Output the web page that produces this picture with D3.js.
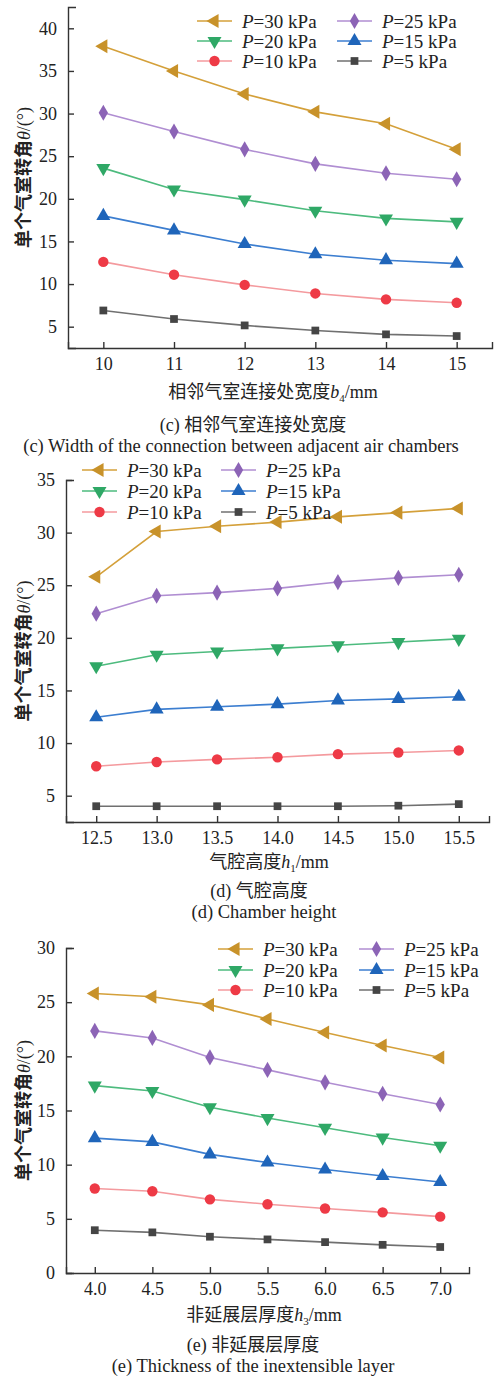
<!DOCTYPE html>
<html><head><meta charset="utf-8">
<script src="https://cdn.jsdelivr.net/npm/d3@7"></script>
<style>
body{margin:0;background:#fff;}
svg text{font-family:"Liberation Serif","Noto Sans CJK SC",serif;fill:#222;}
</style></head>
<body><svg id="chart" width="500" height="1376"></svg>
<script>
// ---------- data ----------
const seriesLabels = ["30 kPa","25 kPa","20 kPa","15 kPa","10 kPa","5 kPa"];
const lineColors   = ["#D4A03A","#B08ED2","#4DBB7E","#3C7ED0","#F49A9E","#707070"];
const markColors   = ["#C8922A","#8C64B6","#2FA866","#1F65BA","#EE3A46","#454545"];
const markShapes   = ["triLeft","diamond","triDown","triUp","circle","square"];

// (c) width of the connection b4
const xC = [10,11,12,13,14,15];
const valuesC = [
  [37.9,35.0,32.3,30.2,28.8,25.8],
  [30.1,27.9,25.8,24.1,23.0,22.3],
  [23.6,21.1,19.9,18.6,17.7,17.3],
  [18.0,16.3,14.7,13.5,12.8,12.4],
  [12.6,11.1,9.9,8.9,8.2,7.8],
  [6.9,5.9,5.15,4.55,4.1,3.9]
];
const yTicksC = [5,10,15,20,25,30,35,40];

// (d) chamber height h1
const xD = [12.5,13.0,13.5,14.0,14.5,15.0,15.5];
const valuesD = [
  [25.8,30.1,30.6,31.0,31.5,31.9,32.3],
  [22.3,24.0,24.3,24.7,25.3,25.7,26.0],
  [17.3,18.4,18.7,19.0,19.3,19.6,19.9],
  [12.45,13.2,13.45,13.7,14.05,14.2,14.4],
  [7.8,8.2,8.45,8.65,8.95,9.1,9.3],
  [4.0,4.0,4.0,4.0,4.0,4.05,4.2]
];
const yTicksD = [5,10,15,20,25,30,35];

// (e) thickness of inextensible layer h3
const xE = [4.0,4.5,5.0,5.5,6.0,6.5,7.0];
const valuesE = [
  [25.8,25.5,24.75,23.45,22.2,21.0,19.9],
  [22.35,21.7,19.9,18.75,17.6,16.55,15.55],
  [17.3,16.8,15.3,14.3,13.4,12.5,11.75],
  [12.45,12.1,10.95,10.2,9.55,8.95,8.4],
  [7.8,7.55,6.8,6.35,5.95,5.6,5.2],
  [3.95,3.75,3.35,3.1,2.85,2.6,2.4]
];
const yTicksE = [0,5,10,15,20,25,30];

// ---------- drawing ----------
const svg = d3.select("#chart");

function markerPath(shape){
  const s = {
    triLeft: d3.symbol().type(d3.symbolTriangle).size(85),
    diamond: d3.symbol().type(d3.symbolDiamond).size(75),
    triDown: d3.symbol().type(d3.symbolTriangle).size(85),
    triUp:   d3.symbol().type(d3.symbolTriangle).size(85),
    circle:  d3.symbol().type(d3.symbolCircle).size(85),
    square:  d3.symbol().type(d3.symbolSquare).size(60)
  }[shape];
  return s();
}
function markerRot(shape){
  return shape==="triLeft" ? -90 : shape==="triDown" ? 180 : 0;
}
function drawMarker(g, shape, x, y, color){
  g.append("path").attr("d", markerPath(shape))
   .attr("transform", `translate(${x},${y}) rotate(${markerRot(shape)})`)
   .attr("fill", color);
}

function drawPanel(cfg){
  const g = svg.append("g");
  const x = d3.scaleLinear().domain(cfg.xDomain).range([cfg.left, cfg.right]);
  const y = d3.scaleLinear().domain(cfg.yDomain).range([cfg.bottom, cfg.top]);

  // axes (inward ticks)
  const xa = g.append("g").attr("transform",`translate(0,${cfg.bottom})`)
    .call(d3.axisBottom(x).tickValues(cfg.xTicks).tickSizeInner(-6).tickSizeOuter(-6).tickFormat(cfg.xFmt));
  const ya = g.append("g").attr("transform",`translate(${cfg.left},0)`)
    .call(d3.axisLeft(y).tickValues(cfg.yTicks).tickSizeInner(-6).tickSizeOuter(-8).tickFormat(d3.format("d")));
  [xa,ya].forEach(a=>{
    a.selectAll("path,line").attr("stroke","#333").attr("stroke-width",1.4);
    a.selectAll("text").attr("font-size",18).attr("fill","#222")
      .style("font-family","'Liberation Serif',serif");
  });
  xa.selectAll("text").attr("y",9).attr("dy","0.71em");
  ya.selectAll("text").attr("x",-11);

  // series
  const line = d3.line().x(d=>x(d[0])).y(d=>y(d[1]));
  cfg.values.forEach((vals,i)=>{
    const pts = cfg.xs.map((xv,j)=>[xv, vals[j]]);
    g.append("path").datum(pts).attr("d",line).attr("fill","none")
      .attr("stroke",lineColors[i]).attr("stroke-width",1.6);
    pts.forEach(p=>drawMarker(g, markShapes[i], x(p[0]), y(p[1]), markColors[i]));
  });

  // legend
  seriesLabels.forEach((lab,i)=>{
    const col = i%2, row = Math.floor(i/2);
    const lx = cfg.legCols[col], ly = cfg.legRows[row];
    g.append("line").attr("x1",lx).attr("x2",lx+35).attr("y1",ly).attr("y2",ly)
      .attr("stroke",lineColors[i]).attr("stroke-width",1.6);
    drawMarker(g, markShapes[i], lx+17.5, ly, markColors[i]);
    const t = g.append("text").attr("x",lx+45).attr("y",ly).attr("dy","0.35em").attr("font-size",19);
    t.append("tspan").attr("font-style","italic").text("P");
    t.append("tspan").text("="+lab);
  });

  // y title
  const yt = g.append("text").attr("transform",`translate(24,${(cfg.top+cfg.bottom)/2}) rotate(-90)`)
    .attr("text-anchor","middle").attr("dy","0.35em").attr("font-size",18);
  yt.append("tspan").text("单个气室转角").attr("font-weight","bold").style("font-family","'Noto Sans CJK SC'");
  yt.append("tspan").attr("font-style","italic").text("θ");
  yt.append("tspan").text("/(°)");

  // x title
  const xt = g.append("text").attr("x",cfg.xTitleX).attr("y",cfg.xTitleY)
    .attr("text-anchor","middle").attr("dy","0.35em").attr("font-size",18);
  xt.append("tspan").text(cfg.xTitleCn).style("font-family","'Noto Sans CJK SC'");
  xt.append("tspan").attr("font-style","italic").text(cfg.xVar);
  xt.append("tspan").attr("font-size",11).attr("dy","4").text(cfg.xSub);
  xt.append("tspan").attr("dy","-4").text("/mm");

  // captions
  const c1 = g.append("text").attr("x",cfg.cap1X).attr("y",cfg.cap1Y)
    .attr("text-anchor","middle").attr("dy","0.35em").attr("font-size",18);
  c1.append("tspan").text(cfg.capTag+" ");
  c1.append("tspan").text(cfg.capCn).style("font-family","'Noto Sans CJK SC'");
  g.append("text").attr("x",cfg.cap2X).attr("y",cfg.cap2Y)
    .attr("text-anchor","middle").attr("dy","0.35em").attr("font-size",18.5)
    .text(cfg.capTag+" "+cfg.capEn);
}

drawPanel({
  xs:xC, values:valuesC, xTicks:xC, yTicks:yTicksC, xFmt:d3.format("d"),
  xDomain:[9.5,15.5], yDomain:[2.5,42.5], left:68, right:492, top:7, bottom:348,
  legCols:[197,337], legRows:[21,41,61],
  xTitleCn:"相邻气室连接处宽度", xVar:"b", xSub:"4", xTitleX:273, xTitleY:392,
  capTag:"(c)", capCn:"相邻气室连接处宽度", capEn:"Width of the connection between adjacent air chambers",
  cap1X:253, cap1Y:425, cap2X:241, cap2Y:446
});
drawPanel({
  xs:xD, values:valuesD, xTicks:xD, yTicks:yTicksD, xFmt:d3.format(".1f"),
  xDomain:[12.25,15.75], yDomain:[2.5,35], left:66, right:489, top:480, bottom:822,
  legCols:[82,221], legRows:[470,491,512],
  xTitleCn:"气腔高度", xVar:"h", xSub:"1", xTitleX:269, xTitleY:862,
  capTag:"(d)", capCn:"气腔高度", capEn:"Chamber height",
  cap1X:259, cap1Y:891, cap2X:264, cap2Y:912
});
drawPanel({
  xs:xE, values:valuesE, xTicks:xE, yTicks:yTicksE, xFmt:d3.format(".1f"),
  xDomain:[3.75,7.25], yDomain:[0,30], left:66, right:469, top:948, bottom:1273,
  legCols:[218,359], legRows:[949,970,990],
  xTitleCn:"非延展层厚度", xVar:"h", xSub:"3", xTitleX:264, xTitleY:1315,
  capTag:"(e)", capCn:"非延展层厚度", capEn:"Thickness of the inextensible layer",
  cap1X:253, cap1Y:1345, cap2X:253, cap2Y:1366
});
</script></body></html>
